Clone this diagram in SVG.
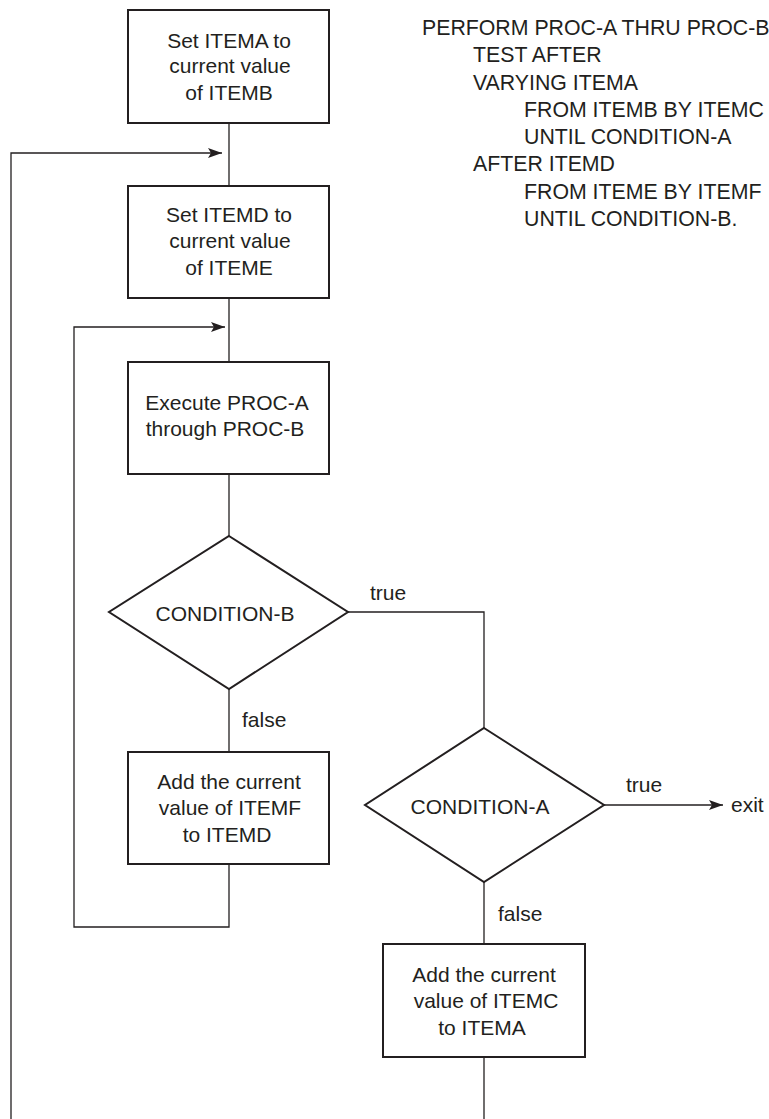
<svg xmlns="http://www.w3.org/2000/svg" width="769" height="1119" viewBox="0 0 769 1119">
<style>
.box{fill:#fff;stroke:#231f20;stroke-width:2}
.dia{fill:#fff;stroke:#231f20;stroke-width:2}
.ln{fill:none;stroke:#231f20;stroke-width:1.3}
text{font-family:"Liberation Sans",Arial,sans-serif;font-size:21px;fill:#231f20}
.code{font-size:21.3px}
.c{text-anchor:middle}
</style>
<defs>
<marker id="ah" viewBox="0 0 14 10" refX="14" refY="5" markerWidth="14" markerHeight="10" markerUnits="userSpaceOnUse" orient="auto">
<path d="M0,0 L14,5 L0,10 L3,5 Z" fill="#231f20"/>
</marker>
</defs>
<g id="connectors">
<line class="ln" x1="229" y1="123" x2="229" y2="186"/>
<polyline class="ln" points="11,1119 11,153 222,153" marker-end="url(#ah)"/>
<line class="ln" x1="229" y1="298" x2="229" y2="362"/>
<polyline class="ln" points="229,864 229,927 74,927 74,327 225,327" marker-end="url(#ah)"/>
<line class="ln" x1="229" y1="474" x2="229" y2="536"/>
<line class="ln" x1="229" y1="689" x2="229" y2="752"/>
<polyline class="ln" points="348,612 484,612 484,728"/>
<line class="ln" x1="604" y1="805" x2="723" y2="805" marker-end="url(#ah)"/>
<line class="ln" x1="484" y1="882" x2="484" y2="944"/>
<line class="ln" x1="484" y1="1057" x2="484" y2="1119"/>
<text x="370" y="600">true</text>
<text x="242" y="727">false</text>
<text x="626" y="792">true</text>
<text x="731" y="812">exit</text>
<text x="498" y="921">false</text>
</g>
<g id="code" class="code">
<text class="code" x="422" y="35">PERFORM PROC-A THRU PROC-B</text>
<text class="code" x="473" y="62">TEST AFTER</text>
<text class="code" x="473" y="90">VARYING ITEMA</text>
<text class="code" x="524" y="117">FROM ITEMB BY ITEMC</text>
<text class="code" x="524" y="144">UNTIL CONDITION-A</text>
<text class="code" x="473" y="171">AFTER ITEMD</text>
<text class="code" x="524" y="199">FROM ITEME BY ITEMF</text>
<text class="code" x="524" y="226">UNTIL CONDITION-B.</text>
</g>
<g id="box1">
<rect class="box" x="128" y="10" width="201" height="113"/>
<text class="c" x="229" y="48">Set ITEMA to</text>
<text class="c" x="230" y="73">current value</text>
<text class="c" x="229" y="100">of ITEMB</text>
</g>
<g id="box2">
<rect class="box" x="128" y="186" width="201" height="112"/>
<text class="c" x="229" y="222">Set ITEMD to</text>
<text class="c" x="230" y="248">current value</text>
<text class="c" x="229" y="275">of ITEME</text>
</g>
<g id="box3">
<rect class="box" x="128" y="362" width="201" height="112"/>
<text class="c" x="227" y="410">Execute PROC-A</text>
<text class="c" x="225" y="436">through PROC-B</text>
</g>
<g id="condB">
<polygon class="dia" points="229,536 348,612 229,689 109,612"/>
<text class="c" x="225" y="621">CONDITION-B</text>
</g>
<g id="box4">
<rect class="box" x="128" y="752" width="201" height="112"/>
<text class="c" x="229" y="789">Add the current</text>
<text class="c" x="230" y="815">value of ITEMF</text>
<text class="c" x="227" y="842">to ITEMD</text>
</g>
<g id="condA">
<polygon class="dia" points="484,728 604,805 484,882 365,805"/>
<text class="c" x="480" y="814">CONDITION-A</text>
</g>
<g id="box5">
<rect class="box" x="383" y="944" width="202" height="113"/>
<text class="c" x="484" y="982">Add the current</text>
<text class="c" x="486" y="1008">value of ITEMC</text>
<text class="c" x="482" y="1035">to ITEMA</text>
</g>
</svg>
